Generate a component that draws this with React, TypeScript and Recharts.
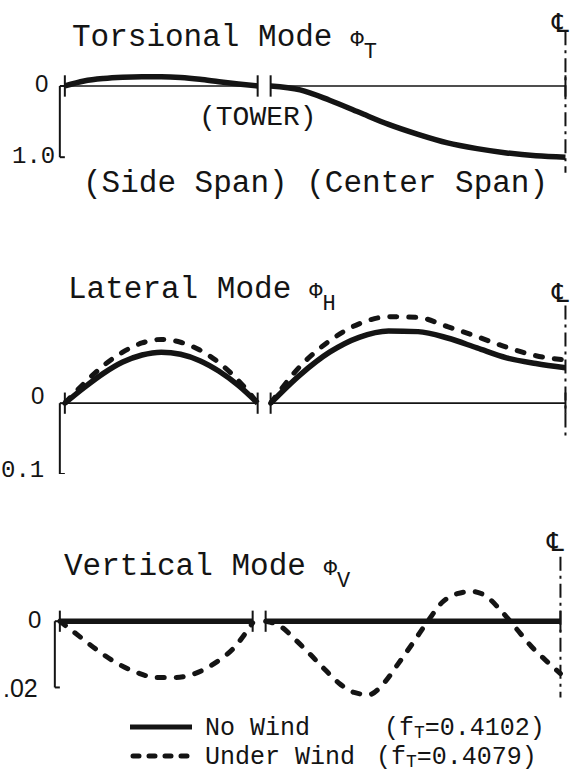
import { Legend, Line, LineChart, ReferenceLine, XAxis, YAxis } from "recharts";

// bridge stations: side span 0..SIDE_LEN, center half span starts after the tower gap
const SIDE_LEN = 0.654;
const CENTER_START = 0.698;
const CENTER_LEN = 1.0;

const stations = [0, 0.1, 0.2, 0.3, 0.4, 0.5, 0.6, 0.7, 0.8, 0.9, 1.0];
const fineStations = [
  0, 0.05, 0.1, 0.15, 0.2, 0.25, 0.3, 0.35, 0.4, 0.45, 0.5, 0.55, 0.6, 0.65, 0.7, 0.75, 0.8, 0.85,
  0.9, 0.95, 1.0,
];

// Torsional mode (phi_T), downward positive
const torsionSideNoWind = [0, -0.07, -0.105, -0.123, -0.13, -0.13, -0.12, -0.095, -0.06, -0.028, 0];
const torsionCenterNoWind = [0, 0.055, 0.2, 0.37, 0.54, 0.68, 0.8, 0.88, 0.94, 0.98, 1.0];

// Lateral mode (phi_H)
const lateralSideNoWind = [0, -0.022, -0.042, -0.058, -0.068, -0.072, -0.069, -0.06, -0.045, -0.025, 0];
const lateralSideWind = [0, -0.028, -0.053, -0.072, -0.085, -0.09, -0.086, -0.075, -0.057, -0.032, 0];
const lateralCenterNoWind = [0, -0.04, -0.072, -0.093, -0.102, -0.101, -0.092, -0.078, -0.064, -0.056, -0.05];
const lateralCenterWind = [0, -0.052, -0.088, -0.112, -0.122, -0.121, -0.108, -0.094, -0.079, -0.067, -0.061];

// Vertical mode (phi_V)
const verticalSideNoWind = [0, 0, 0, 0, 0, 0, 0, 0, 0, 0, 0];
const verticalSideWind = [0, 0.0045, 0.009, 0.0128, 0.0155, 0.017, 0.017, 0.0158, 0.0128, 0.0082, 0.0005];
const verticalCenterNoWind = [0, 0, 0, 0, 0, 0, 0, 0, 0, 0, 0];
const verticalCenterWind = [
  0, 0.0015, 0.0055, 0.0099, 0.0145, 0.0188, 0.0215, 0.0222, 0.0188, 0.0128, 0.0065, 0.0, -0.0058,
  -0.0083, -0.009, -0.0074, -0.003, 0.0022, 0.0075, 0.0118, 0.0158,
];

const caseNames = ["No Wind", "Under Wind"];
const ftValues = ["0.4102", "0.4079"];

const INK = "#141414";
const MONO = "'Liberation Mono', monospace";
const SANS = "'Liberation Sans', Arial, sans-serif";

const side = (vals: number[], st = stations) => vals.map((v, i) => ({ x: st[i] * SIDE_LEN, y: v }));
const center = (vals: number[], st = stations) =>
  vals.map((v, i) => ({ x: CENTER_START + st[i] * CENTER_LEN, y: v }));

type Series = { data: { x: number; y: number }[]; wind: boolean; legend?: boolean };

type PanelProps = {
  top: number;
  left: number;
  height: number;
  domain: [number, number];
  scale: number;
  tick: number;
  cl: [number, number];
  series: Series[];
  legend?: boolean;
};

const CHART_WIDTH = 513;
const X_DOMAIN: [number, number] = [-0.03, 1.71];
const BRACKET_X = -0.017;

function LegendBox({ payload }: any) {
  const items = (payload || []).filter((p: any) => caseNames.includes(p.value));
  return (
    <svg width={453} height={66} style={{ display: "block", overflow: "visible" }}>
      {items.map((item: any) => {
        const idx = caseNames.indexOf(item.value);
        const y = 26 + idx * 29;
        const dashed = item.payload?.strokeDasharray;
        return (
          <g key={item.value}>
            <line
              x1={dashed ? 13 : 10}
              x2={dashed ? 70 : 72}
              y1={y}
              y2={y}
              stroke={INK}
              strokeWidth={5}
              strokeDasharray={dashed ? "6 10" : undefined}
              strokeLinecap={dashed ? "round" : "butt"}
            />
            <text x={85} y={y + 8} fontFamily={MONO} fontSize={25} fill={INK}>
              {item.value}
            </text>
            <text x={idx === 0 ? 264 : 256} y={y + 8} fontFamily={MONO} fontSize={25} fill={INK}>
              (f
              <tspan fontSize={18} dy={3}>
                T
              </tspan>
              <tspan dy={-3}>={ftValues[idx]})</tspan>
            </text>
          </g>
        );
      })}
    </svg>
  );
}

function Panel({ top, left, height, domain, scale, tick, cl, series, legend }: PanelProps) {
  const spanEnds = [0, SIDE_LEN, CENTER_START, CENTER_START + CENTER_LEN];
  return (
    <div style={{ position: "absolute", left, top }}>
      <LineChart width={CHART_WIDTH} height={height} margin={{ top: 0, right: 0, bottom: 0, left: 0 }}>
        <XAxis type="number" dataKey="x" domain={X_DOMAIN} hide />
        <YAxis type="number" dataKey="y" domain={domain} reversed hide />
        {/* thin zero lines */}
        <ReferenceLine segment={[{ x: 0, y: 0 }, { x: SIDE_LEN, y: 0 }]} stroke={INK} strokeWidth={1.6} />
        <ReferenceLine
          segment={[{ x: CENTER_START, y: 0 }, { x: CENTER_START + CENTER_LEN, y: 0 }]}
          stroke={INK}
          strokeWidth={1.6}
        />
        {spanEnds.map((x) => (
          <ReferenceLine key={x} segment={[{ x, y: -tick }, { x, y: tick }]} stroke={INK} strokeWidth={2} />
        ))}
        {/* scale bracket */}
        <ReferenceLine segment={[{ x: BRACKET_X, y: 0 }, { x: BRACKET_X, y: scale }]} stroke={INK} strokeWidth={2} />
        <ReferenceLine segment={[{ x: BRACKET_X, y: 0 }, { x: 0, y: 0 }]} stroke={INK} strokeWidth={2} />
        <ReferenceLine segment={[{ x: BRACKET_X, y: scale }, { x: 0, y: scale }]} stroke={INK} strokeWidth={2} />
        {/* centre line */}
        <ReferenceLine
          segment={[
            { x: CENTER_START + CENTER_LEN, y: cl[0] },
            { x: CENTER_START + CENTER_LEN, y: cl[1] },
          ]}
          stroke={INK}
          strokeWidth={2}
          strokeDasharray="14 5 3 5"
        />
        {series.map((s, i) => (
          <Line
            key={i}
            data={s.data}
            dataKey="y"
            type="monotone"
            name={s.legend ? (s.wind ? caseNames[1] : caseNames[0]) : undefined}
            legendType={s.legend ? "line" : "none"}
            stroke={INK}
            strokeWidth={s.wind ? 5 : 5.5}
            strokeDasharray={s.wind ? "7 12" : undefined}
            strokeLinecap={s.wind ? "round" : "butt"}
            dot={false}
            activeDot={false}
            isAnimationActive={false}
          />
        ))}
        {legend && (
          <Legend
            layout="vertical"
            align="center"
            verticalAlign="middle"
            content={<LegendBox />}
            wrapperStyle={{ position: "absolute", left: 69, top: 146, width: 453, height: 66 }}
          />
        )}
      </LineChart>
    </div>
  );
}

function Cl({ x, y }: { x: number; y: number }) {
  return (
    <text x={x} y={y} fontFamily="'DejaVu Sans', sans-serif" fontSize={26} fill={INK}>
      ℄
    </text>
  );
}

export default function App() {
  return (
    <div style={{ position: "absolute", left: 0, top: 0, width: 573, height: 772, background: "#fff" }}>
      <Panel
        top={29}
        left={56}
        height={146}
        domain={[-0.8, 1.25]}
        scale={1.0}
        tick={0.15}
        cl={[-0.77, 1.22]}
        series={[
          { data: side(torsionSideNoWind), wind: false },
          { data: center(torsionCenterNoWind), wind: false },
        ]}
      />
      <Panel
        top={304}
        left={56}
        height={170}
        domain={[-0.14, 0.1]}
        scale={0.1}
        tick={0.015}
        cl={[-0.138, 0.05]}
        series={[
          { data: side(lateralSideWind), wind: true },
          { data: center(lateralCenterWind), wind: true },
          { data: side(lateralSideNoWind), wind: false },
          { data: center(lateralCenterNoWind), wind: false },
        ]}
      />
      <Panel
        top={555}
        left={51}
        height={149}
        domain={[-0.02, 0.025]}
        scale={0.02}
        tick={0.0032}
        cl={[-0.0195, 0.023]}
        legend
        series={[
          { data: side(verticalSideWind), wind: true, legend: true },
          { data: center(verticalCenterWind, fineStations), wind: true },
          { data: side(verticalSideNoWind), wind: false, legend: true },
          { data: center(verticalCenterNoWind), wind: false },
        ]}
      />
      <svg
        width={573}
        height={772}
        style={{ position: "absolute", left: 0, top: 0, pointerEvents: "none" }}
      >
        {/* torsional */}
        <text x={72} y={46} fontFamily={MONO} fontSize={31} fill={INK}>
          Torsional Mode
          <tspan fontSize={22} dx={18}>Φ</tspan>
          <tspan fontSize={22} dy={12}>T</tspan>
        </text>
        <Cl x={552} y={32} />
        <text x={35} y={92} fontFamily={SANS} fontSize={24} fill={INK}>0</text>
        <text x={12} y={163} fontFamily={MONO} fontSize={24} fill={INK}>1.0</text>
        <text x={199} y={125} fontFamily={MONO} fontSize={28} fill={INK}>(TOWER)</text>
        <text x={83} y={192} fontFamily={MONO} fontSize={31} fill={INK}>(Side Span) (Center Span)</text>

        {/* lateral */}
        <text x={68} y={298} fontFamily={MONO} fontSize={31} fill={INK}>
          Lateral Mode
          <tspan fontSize={22} dx={18}>Φ</tspan>
          <tspan fontSize={22} dy={12}>H</tspan>
        </text>
        <Cl x={552} y={302} />
        <text x={31} y={404} fontFamily={SANS} fontSize={24} fill={INK}>0</text>
        <text x={1} y={477} fontFamily={MONO} fontSize={24} fill={INK}>0.1</text>

        {/* vertical */}
        <text x={64} y={575} fontFamily={MONO} fontSize={31} fill={INK}>
          Vertical Mode
          <tspan fontSize={22} dx={18}>Φ</tspan>
          <tspan fontSize={22} dy={12}>V</tspan>
        </text>
        <Cl x={547} y={551} />
        <text x={28} y={628} fontFamily={SANS} fontSize={24} fill={INK}>0</text>
        <text x={3} y={697} fontFamily={SANS} fontSize={25} fill={INK}>.02</text>
      </svg>
    </div>
  );
}
